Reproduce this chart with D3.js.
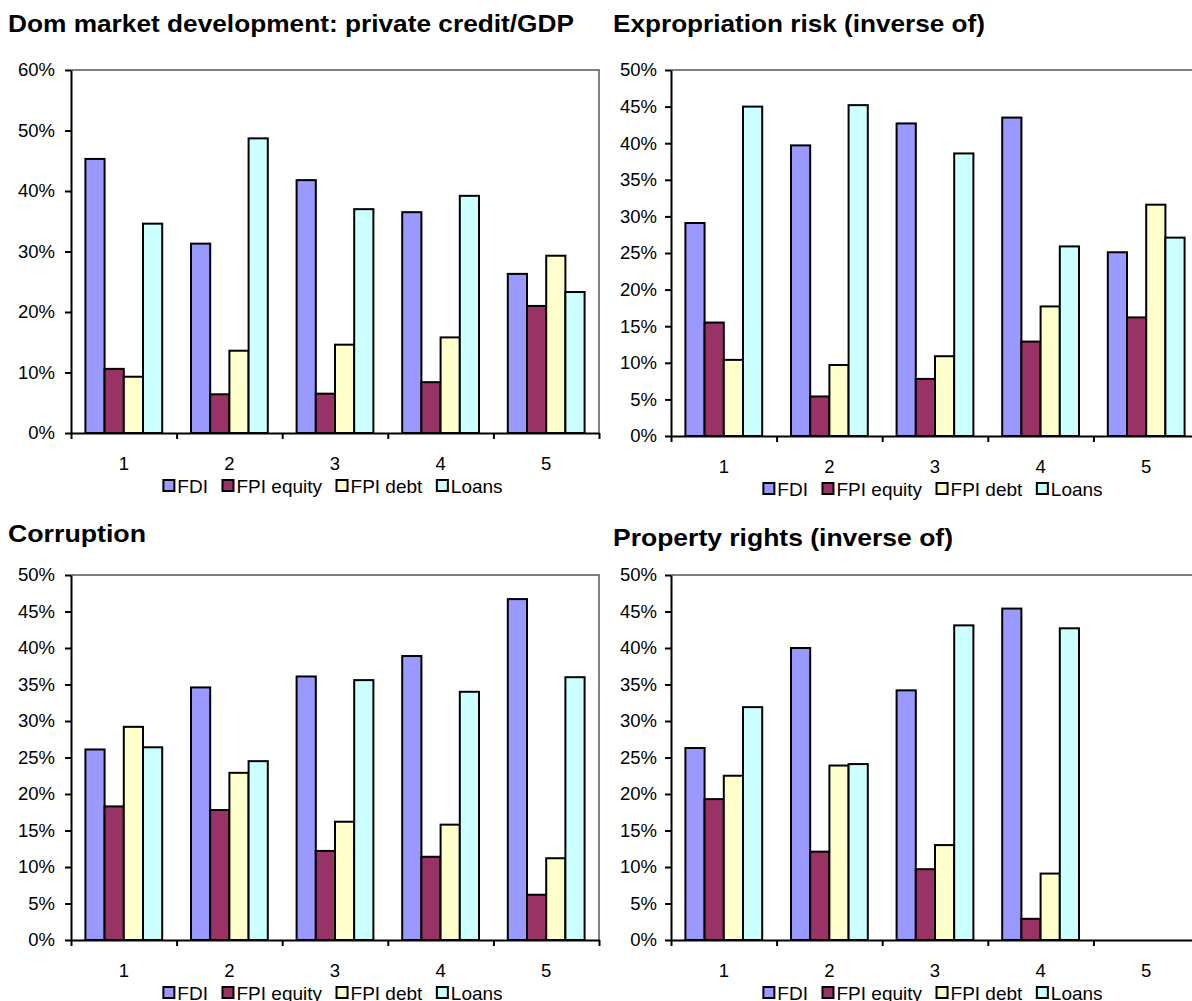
<!DOCTYPE html>
<html>
<head>
<meta charset="utf-8">
<script src="https://cdn.jsdelivr.net/npm/d3@7"></script>
<style>
  body { margin: 0; background: #fff; }
  svg { display: block; font-family: "Liberation Sans", Arial, sans-serif; }
</style>
</head>
<body>
<div id="main"></div>
<script>
//categories and series names
const groups = ["1", "2", "3", "4", "5"];
const series = ["FDI", "FPI equity", "FPI debt", "Loans"];

//panel 1: private credit/GDP (percent)
const creditFDI = [45.3, 31.3, 41.8, 36.5, 26.3];
const creditEquity = [10.6, 6.4, 6.5, 8.4, 21.0];
const creditDebt = [9.3, 13.6, 14.6, 15.8, 29.3];
const creditLoans = [34.6, 48.7, 37.0, 39.2, 23.3];

//panel 2: expropriation risk
const exproFDI = [29.1, 39.7, 42.7, 43.5, 25.1];
const exproEquity = [15.5, 5.4, 7.8, 12.9, 16.2];
const exproDebt = [10.4, 9.7, 10.9, 17.7, 31.6];
const exproLoans = [45.0, 45.2, 38.6, 25.9, 27.1];

//panel 3: corruption
const corrFDI = [26.1, 34.6, 36.1, 38.9, 46.7];
const corrEquity = [18.3, 17.8, 12.2, 11.4, 6.2];
const corrDebt = [29.2, 22.9, 16.2, 15.8, 11.2];
const corrLoans = [26.4, 24.5, 35.6, 34.0, 36.0];

//panel 4: property rights (group 5 empty)
const propFDI = [26.3, 40.0, 34.2, 45.4, null];
const propEquity = [19.3, 12.1, 9.7, 2.9, null];
const propDebt = [22.5, 23.9, 13.0, 9.1, null];
const propLoans = [31.9, 24.1, 43.1, 42.7, null];

//y tick values
const ticks60 = [0, 10, 20, 30, 40, 50, 60];
const ticks50 = [0, 5, 10, 15, 20, 25, 30, 35, 40, 45, 50];

const colors = ["#9999ff", "#993366", "#ffffcc", "#ccffff"];

const width = 1192;
const height = 1001;

const svg = d3.select('#main')
              .append('svg')
              .attr('width', width)
              .attr('height', height);

//draw one panel
function drawPanel(p) {
  const g = svg.append('g');
  const x0 = p.left, x1 = p.left + 528;

  //title, a bit wide like the original
  g.append('text')
   .attr('x', p.titleX).attr('y', p.titleY)
   .attr('font-size', 24).attr('font-weight', 'bold')
   .attr('textLength', p.titleW).attr('lengthAdjust', 'spacingAndGlyphs')
   .text(p.title);

  const yScale = d3.scaleLinear().domain([0, p.ymax]).range([p.bottom, p.top]);
  const xScale = d3.scaleBand().domain(groups).range([x0, x1]);
  const inner = d3.scaleBand().domain(series).range([0, xScale.bandwidth()]).paddingOuter(0.75);

  //plot frame: gray top and right
  g.append('path')
   .attr('d', `M${x0},${p.top}H${x1}V${p.bottom}`)
   .attr('fill', 'none').attr('stroke', '#808080').attr('stroke-width', 2);

  //bars
  const rows = groups.map((k, i) => p.values.map(v => v[i]));
  g.selectAll('.grp').data(rows).enter()
   .append('g').attr('class', 'grp')
   .attr('transform', (d, i) => `translate(${xScale(groups[i])},0)`)
   .selectAll('rect').data(d => d.map((v, j) => ({v: v, s: series[j], c: colors[j]})).filter(d => d.v != null))
   .enter().append('rect')
   .attr('x', d => inner(d.s))
   .attr('width', inner.bandwidth())
   .attr('y', d => yScale(d.v))
   .attr('height', d => yScale(0) - yScale(d.v))
   .attr('fill', d => d.c)
   .attr('stroke', '#000').attr('stroke-width', 2);

  //y axis
  const yAxis = d3.axisLeft(yScale).tickValues(p.ticks)
                  .tickFormat(d => d + "%").tickSize(6).tickSizeOuter(0).tickPadding(p.pad);
  const ya = g.append('g').attr('transform', `translate(${x0},0)`).call(yAxis);
  ya.selectAll('text').attr('font-size', 18.5).attr('fill', '#000');
  ya.selectAll('line,path').attr('stroke', '#000').attr('stroke-width', 2);

  //x axis: ticks at band edges, labels centered
  const edge = d3.scaleLinear().domain([0, 5]).range([x0, x1]);
  const xa = g.append('g').attr('transform', `translate(0,${p.bottom})`)
              .call(d3.axisBottom(edge).tickValues([0, 1, 2, 3, 4, 5]).tickFormat('').tickSize(6).tickSizeOuter(0));
  xa.selectAll('line,path').attr('stroke', '#000').attr('stroke-width', 2);

  g.selectAll('.xlab').data(groups).enter()
   .append('text').attr('class', 'xlab')
   .attr('x', d => xScale(d) + xScale.bandwidth() / 2)
   .attr('y', p.bottom + 31)
   .attr('dy', '.35em')
   .attr('text-anchor', 'middle')
   .attr('font-size', 18.5)
   .text(d => d);

  //legend, centered under the plot
  const lg = g.append('g');
  let lx = 0;
  series.forEach((s, j) => {
    lg.append('rect').attr('x', lx).attr('y', -6).attr('width', 11).attr('height', 11)
      .attr('fill', colors[j]).attr('stroke', '#000').attr('stroke-width', 2);
    const t = lg.append('text').attr('x', lx + 14).attr('y', 0).attr('dy', '.35em')
      .attr('font-size', 19).text(s);
    lx += 14 + t.node().getComputedTextLength() + 14.5;
  });
  lx -= 14.5;
  lg.attr('transform', `translate(${(x0 + x1) / 2 - 2 - lx / 2},${p.bottom + 53})`);
}

drawPanel({
  title: "Dom market development: private credit/GDP",
  titleX: 8, titleY: 32, titleW: 566, pad: 10,
  left: 71, top: 70, bottom: 433, ymax: 60, ticks: ticks60,
  values: [creditFDI, creditEquity, creditDebt, creditLoans]
});
drawPanel({
  title: "Expropriation risk (inverse of)",
  titleX: 613, titleY: 32, titleW: 372, pad: 8,
  left: 671, top: 70, bottom: 436, ymax: 50, ticks: ticks50,
  values: [exproFDI, exproEquity, exproDebt, exproLoans]
});
drawPanel({
  title: "Corruption",
  titleX: 8, titleY: 542, titleW: 138, pad: 10,
  left: 71, top: 575, bottom: 940, ymax: 50, ticks: ticks50,
  values: [corrFDI, corrEquity, corrDebt, corrLoans]
});
drawPanel({
  title: "Property rights (inverse of)",
  titleX: 613, titleY: 546, titleW: 340, pad: 8,
  left: 671, top: 575, bottom: 940, ymax: 50, ticks: ticks50,
  values: [propFDI, propEquity, propDebt, propLoans]
});
</script>
</body>
</html>
